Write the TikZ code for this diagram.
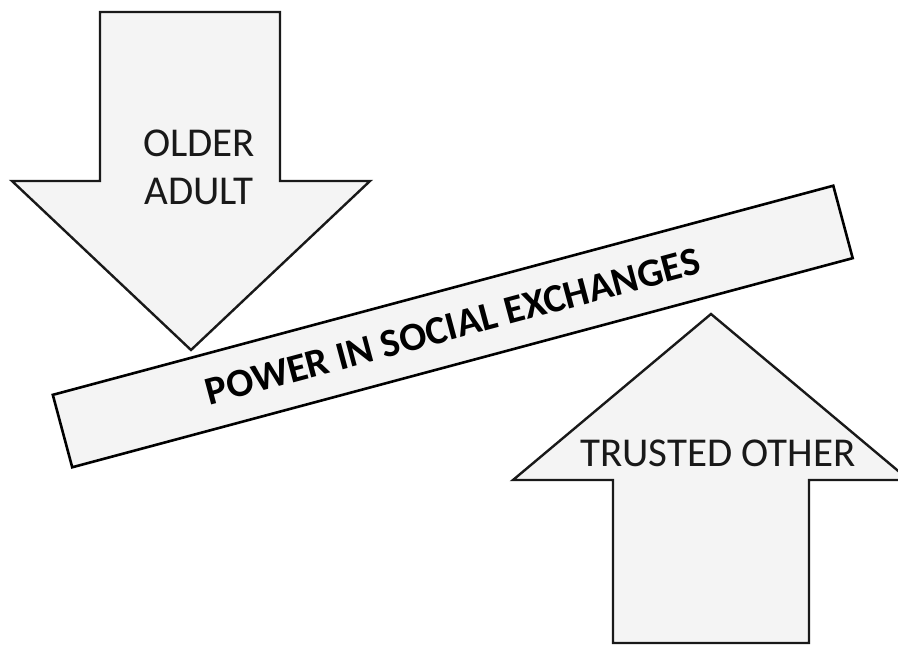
\documentclass[tikz,border=0pt]{standalone}
\usepackage{fontspec}
\setmainfont{Carlito}
\begin{document}
\begin{tikzpicture}[x=1pt,y=-1pt]
\definecolor{shapefill}{HTML}{F4F4F4}
\tikzset{
  arrowshape/.style={draw=black!90, line width=2.4pt, fill=shapefill, line join=miter},
  lbl/.style={font=\fontsize{41}{48}\selectfont, text=black!90, align=center, inner sep=0pt},
  barbox/.style={draw=black, line width=2.6pt, fill=shapefill, minimum width=808pt, minimum height=75pt, inner sep=0pt, rotate=15, font=\fontsize{40}{47}\selectfont\bfseries}
}
\useasboundingbox (0,0) rectangle (898,646);
\clip (0,0) rectangle (898,646);
% down arrow
\draw[arrowshape] (100,12) -- (280,12) -- (280,181) -- (370,181) -- (191,350) -- (12,181) -- (100,181) -- cycle;
\node[lbl] (older) at (199,167) {OLDER\\ADULT};
% up arrow
\draw[arrowshape] (613,643) -- (809,643) -- (809,480) -- (909,480) -- (711,314) -- (513,480) -- (613,480) -- cycle;
\node[lbl, anchor=base] (trusted) at (718,466) {TRUSTED OTHER};
% bar
\node[barbox] (bar) at (452.75,326.5) {\raisebox{-3pt}{POWER IN SOCIAL EXCHANGES}};
\end{tikzpicture}
\end{document}
